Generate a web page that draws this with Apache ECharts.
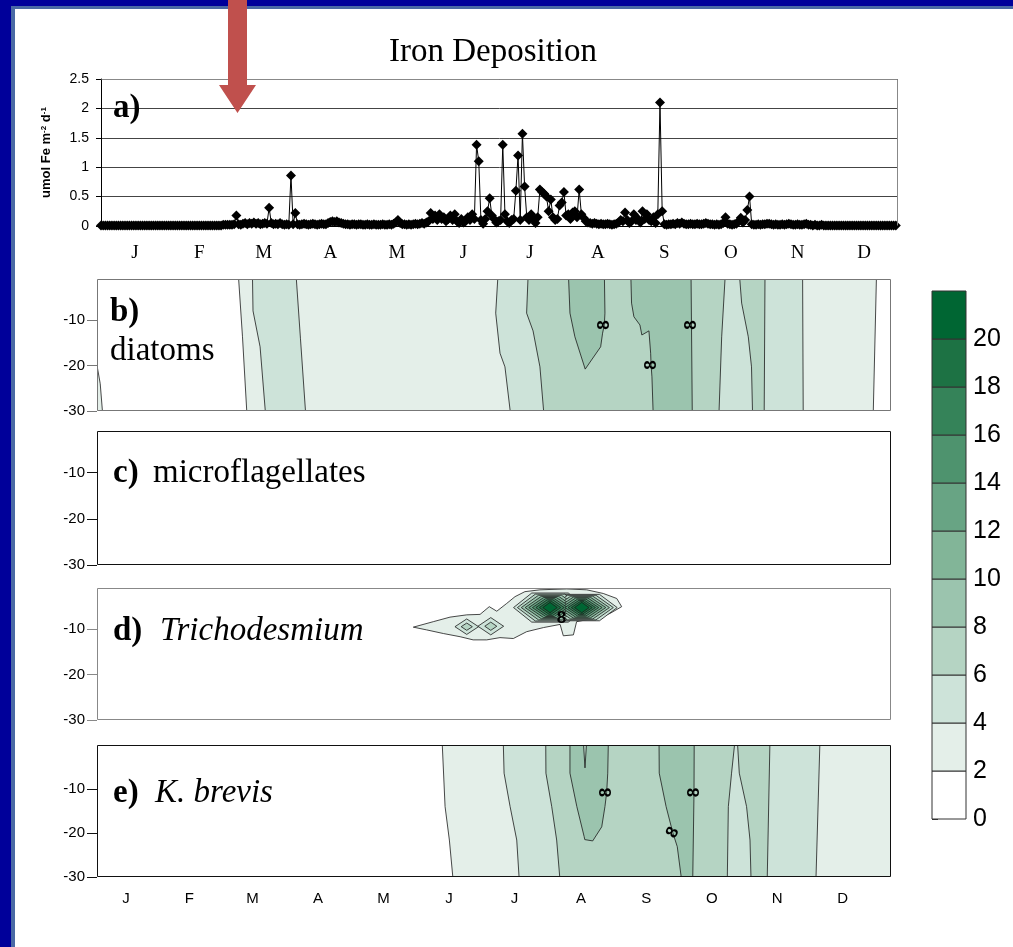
<!DOCTYPE html>
<html>
<head>
<meta charset="utf-8">
<title>Iron deposition and phytoplankton</title>
<script src="https://cdn.jsdelivr.net/npm/echarts@6/dist/echarts.min.js"></script>
<style>
html, body { margin: 0; padding: 0; background: #fff; }
#main { width: 1013px; height: 947px; }
</style>
</head>
<body>
<div id="main"></div>
<script>
var monthLetters = ['J','F','M','A','M','J','J','A','S','O','N','D'];
var monthMidDays = [15.5, 45, 74.5, 105, 135.5, 166, 196.5, 227.5, 258, 288.5, 319, 349.5];

// daily iron deposition (umol Fe m-2 d-1), one value per day
var ironJan = [0.01,0.01,0.01,0.01,0.01,0.01,0.01,0.01,0.01,0.01,
               0.01,0.01,0.01,0.01,0.01,0.01,0.01,0.01,0.01,0.01,
               0.01,0.01,0.01,0.01,0.01,0.01,0.01,0.01,0.01,0.01,0.01];
var ironFeb = [0.01,0.01,0.01,0.01,0.01,0.01,0.01,0.01,0.01,0.01,
               0.01,0.01,0.01,0.01,0.01,0.01,0.01,0.01,0.01,0.01,
               0.01,0.01,0.01,0.01,0.01,0.02,0.02,0.02];
var ironMar = [0.02,0.02,0.03,0.18,0.03,0.02,0.04,0.05,0.03,0.05,
               0.04,0.06,0.04,0.05,0.03,0.04,0.05,0.04,0.31,0.05,
               0.03,0.04,0.03,0.05,0.03,0.02,0.03,0.02,0.86,0.03,0.22];
var ironApr = [0.03,0.02,0.03,0.04,0.03,0.02,0.03,0.04,0.03,0.02,
               0.03,0.04,0.03,0.03,0.05,0.07,0.08,0.07,0.08,0.06,
               0.05,0.04,0.03,0.03,0.02,0.03,0.03,0.02,0.03,0.03];
var ironMay = [0.02,0.02,0.03,0.02,0.02,0.03,0.02,0.02,0.02,0.03,
               0.02,0.02,0.03,0.02,0.04,0.06,0.10,0.05,0.03,0.03,
               0.02,0.03,0.02,0.03,0.04,0.03,0.04,0.05,0.04,0.06,0.08];
var ironJun = [0.22,0.12,0.18,0.10,0.20,0.12,0.15,0.08,0.12,0.18,
               0.10,0.20,0.08,0.05,0.12,0.06,0.08,0.15,0.10,0.20,
               0.12,1.38,1.10,0.10,0.04,0.12,0.25,0.47,0.18,0.12];
var ironJul = [0.06,0.08,0.10,1.38,0.20,0.08,0.05,0.10,0.12,0.60,
               1.20,0.10,1.57,0.67,0.15,0.10,0.20,0.12,0.05,0.15,
               0.62,0.58,0.55,0.50,0.25,0.45,0.15,0.10,0.12,0.35,0.40];
var ironAug = [0.58,0.18,0.20,0.12,0.23,0.25,0.15,0.62,0.20,0.14,
               0.08,0.06,0.05,0.04,0.05,0.04,0.03,0.04,0.03,0.03,
               0.04,0.03,0.02,0.03,0.04,0.06,0.10,0.08,0.23,0.10,0.05];
var ironSep = [0.08,0.20,0.10,0.12,0.06,0.25,0.12,0.20,0.10,0.08,
               0.15,0.05,0.20,2.10,0.25,0.03,0.02,0.03,0.03,0.04,
               0.03,0.05,0.04,0.06,0.04,0.03,0.03,0.04,0.03,0.03];
var ironOct = [0.04,0.03,0.03,0.04,0.05,0.04,0.03,0.03,0.02,0.03,
               0.02,0.03,0.05,0.15,0.04,0.03,0.02,0.03,0.04,0.08,
               0.14,0.06,0.10,0.27,0.50,0.03,0.02,0.02,0.03,0.02,0.03];
var ironNov = [0.03,0.04,0.04,0.03,0.02,0.03,0.02,0.02,0.03,0.02,
               0.03,0.04,0.03,0.02,0.02,0.03,0.02,0.02,0.03,0.04,
               0.02,0.02,0.01,0.02,0.01,0.01,0.02,0.01,0.01,0.01];
var ironDec = [0.01,0.01,0.01,0.01,0.01,0.01,0.01,0.01,0.01,0.01,
               0.01,0.01,0.01,0.01,0.01,0.01,0.01,0.01,0.01,0.01,
               0.01,0.01,0.01,0.01,0.01,0.01,0.01,0.01,0.01,0.01,0.01];
var ironDeposition = [].concat(ironJan, ironFeb, ironMar, ironApr, ironMay, ironJun,
                               ironJul, ironAug, ironSep, ironOct, ironNov, ironDec);

var depthTicks = [-30, -20, -10];
var levelEdges = [0, 2, 4, 6, 8, 10, 12, 14, 16, 18, 20];
var levelColors = ['#ffffff','#e4efe9','#cde3d9','#b5d4c3','#9bc4ae','#82b598',
                   '#68a484','#4e936e','#358359','#1d7244','#006633'];

// contour regions: [lower level, [[day, depth], ...]]  (value >= level inside)
var diatomRegions = [
  [2, [[1,-20.3],[2.2,-20.5],[3.5,-24],[4.7,-31],[1,-31]]],
  [2, [[68,1],[68,-1],[69.8,-13.7],[71.9,-31],[363.7,-31],[365.3,1]]],
  [4, [[74.4,1],[74.7,-8],[78,-15.9],[80.6,-31],[99.3,-31],[96.8,-14],[94.6,1]]],
  [4, [[189,1],[187.8,-8.5],[189.8,-17.3],[192.1,-20.3],[194.8,-31],[331.1,-31],[330.8,1]]],
  [6, [[203,1],[202.2,-8.5],[205.2,-12.4],[208.4,-20.3],[210.3,-31],[291.8,-31],[293.1,-13.7],[294.9,1]]],
  [6, [[301.2,1],[302.4,-6.3],[305.5,-13.7],[307,-20.3],[307.5,-31],[312.9,-31],[313.3,1]]],
  [8, [[221.6,1],[222.4,-8.5],[224.7,-13.7],[229.5,-20.8],[236.7,-15.9],[237.6,-12.9],[238.4,-11.1],[238.7,-8.5],[238.4,1]]],
  [8, [[250.7,1],[251.1,-6.3],[252.2,-9.3],[255,-11.1],[255.9,-13.3],[259.2,-12.4],[260,-17.3],[260.2,-19.9],[260.6,-22.5],[261.2,-31],[279.4,-31],[278.8,1]]]
];
var diatomLabels = [[238.4,-11.1,90],[278.8,-11.1,90],[260.2,-19.9,90]];

var microRegions = [];

var trichoRegions = [
  [2, [[149.4,-9.6],[158.7,-8.4],[166.5,-7.4],[174.3,-6.9],[180.5,-6.8],[184.8,-5.1],[188.3,-6.1],
       [192.9,-4.4],[196.8,-2.9],[201.4,-1.8],[208.4,-1.4],[220.9,-1.2],[230.2,-1.4],[237.9,-2.2],
       [244.2,-3.3],[246.5,-5.1],[241.0,-6.6],[233.3,-7.7],[225.5,-8.4],[224.0,-11.3],[219.3,-11.5],
       [217.8,-9.0],[210.0,-9.7],[202.2,-10.6],[196.0,-12.1],[189.8,-11.9],[183.6,-12.4],[177.3,-12.4],
       [171.2,-11.7],[163.4,-11.0],[155.6,-10.2]]]
];
// closed rings around maxima: [level, day, depth, half width (days), half height (m), flat top share]
var trichoRings = [
  [4,174.3,-9.5,5.5,1.7,0],  [6,174.3,-9.5,2.6,0.8,0],
  [4,185.5,-9.4,6.0,1.9,0],  [6,185.5,-9.4,2.8,0.9,0],
  [4,213.1,-5.3,17.0,3.2,0.5],[4,227.9,-5.3,16.5,2.9,0.5],
  [6,213.1,-5.3,15.2,2.95,0.45],[6,227.9,-5.3,14.7,2.7,0.45],
  [8,213.1,-5.3,13.4,2.7,0.4],[8,227.9,-5.3,12.9,2.5,0.4],
  [10,213.1,-5.3,11.6,2.45,0.35],[10,227.9,-5.3,11.2,2.3,0.35],
  [12,213.1,-5.3,9.9,2.2,0.3],[12,227.9,-5.3,9.5,2.1,0.3],
  [14,213.1,-5.3,8.2,1.95,0.25],[14,227.9,-5.3,7.9,1.85,0.25],
  [16,213.1,-5.3,6.6,1.7,0.2],[16,227.9,-5.3,6.4,1.6,0.2],
  [18,213.1,-5.3,5.0,1.45,0.1],[18,227.9,-5.3,4.9,1.4,0.1],
  [20,213.1,-5.3,3.4,1.15,0],[20,227.9,-5.3,3.4,1.15,0]
];
var trichoLabels = [[218.5,-7.7,0]];

var brevisRegions = [
  [2, [[162.9,1],[162.9,0],[164.2,-14],[166.2,-21.6],[168,-31],[380,-31],[380,1]]],
  [4, [[191.3,1],[191.7,-6.4],[194.5,-14],[197.6,-21.6],[198.8,-31],[337,-31],[338.9,1]]],
  [6, [[211.1,1],[211.2,-6.4],[213.9,-14],[216.2,-21.6],[217.8,-31],[295.7,-31],[296.2,-14],[297.7,-6.4],[299.3,1]]],
  [6, [[300.4,1],[301.3,-6.4],[304.7,-14],[306.3,-21.6],[306.8,-31],[314.3,-31],[315.6,1]]],
  [8, [[222.4,1],[222.4,-6.4],[225.6,-14],[229,-20.8],[229.3,-21.5],[233,-21.8],[237.2,-18.6],[238.7,-14],
       [239.5,-10.8],[240,-6.4],[240.3,1],[230.2,1],[229.4,-5.2],[228.6,1]]],
  [8, [[263.9,1],[264,-6.4],[267.2,-14],[270.3,-19.9],[272.4,-23.1],[274.5,-31],[279.6,-31],[280.2,-10.8],[280.3,1]]]
];
var brevisLabels = [[239.5,-10.8,90],[280.2,-10.8,90],[270.3,-19.9,60]];

// rings become polygons, then everything is painted from low to high level
function ringsToRegions(rings) {
  return rings.map(function (r) {
    var cx = r[1], cy = r[2], hw = r[3], hh = r[4], f = r[5];
    var pts = f > 0
      ? [[cx - hw, cy], [cx - hw * f, cy + hh], [cx + hw * f, cy + hh], [cx + hw, cy], [cx + hw * f, cy - hh], [cx - hw * f, cy - hh]]
      : [[cx - hw, cy], [cx, cy + hh], [cx + hw, cy], [cx, cy - hh]];
    return [r[0], pts];
  });
}
var trichoAll = trichoRegions.concat(ringsToRegions(trichoRings));
trichoAll.sort(function (a, b) { return a[0] - b[0]; });

var sans = 'Liberation Sans';
var serif = 'Liberation Serif';

function monthFormatter(v) {
  var i = monthMidDays.indexOf(v);
  return i >= 0 ? monthLetters[i] : '';
}

function regionSeries(idx, regions) {
  return {
    type: 'custom', xAxisIndex: idx, yAxisIndex: idx, clip: true, silent: true, z: 2,
    data: regions.map(function (r) { return [r[1][0][0], r[1][0][1], r[0]]; }),
    renderItem: function (params, api) {
      var r = regions[params.dataIndex];
      var pts = r[1].map(function (p) { return api.coord(p); });
      return {
        type: 'polygon', shape: { points: pts },
        style: { fill: levelColors[r[0] / 2], stroke: '#1a1a1a', lineWidth: 0.8 }
      };
    }
  };
}

function labelSeries(idx, labels) {
  return {
    type: 'custom', xAxisIndex: idx, yAxisIndex: idx, silent: true, z: 4,
    data: labels,
    renderItem: function (params, api) {
      var p = api.coord([api.value(0), api.value(1)]);
      return {
        type: 'text', x: p[0], y: p[1], rotation: api.value(2) * Math.PI / 180,
        style: { text: '8', font: 'bold 17px "' + sans + '"', fill: '#000',
                 align: 'center', verticalAlign: 'middle', textAlign: 'center', textVerticalAlign: 'middle' }
      };
    }
  };
}

function frameSeries(idx, color, openFrame) {
  return {
    type: 'custom', xAxisIndex: idx, yAxisIndex: idx, silent: true, z: 5,
    data: [[100, -10]],
    renderItem: function (params) {
      var cs = params.coordSys;
      var x0 = Math.round(cs.x) + 0.5, y0 = Math.round(cs.y) + 0.5;
      var x1 = Math.round(cs.x + cs.width) - 0.5, y1 = Math.round(cs.y + cs.height) - 0.5;
      if (openFrame) {
        return { type: 'polyline', shape: { points: [[x0, y0], [x1, y0], [x1, y1]] },
                 style: { stroke: color, lineWidth: 1, fill: null } };
      }
      return { type: 'rect', shape: { x: x0, y: y0, width: x1 - x0, height: y1 - y0 },
               style: { fill: 'none', stroke: color, lineWidth: 1 } };
    }
  };
}

function depthAxis(idx, max, color) {
  return {
    gridIndex: idx, type: 'value', min: -30, max: max,
    axisLine: { show: false },
    axisTick: { show: true, customValues: depthTicks, length: 10, lineStyle: { color: color } },
    axisLabel: { customValues: depthTicks, fontFamily: sans, fontSize: 15, color: '#000', margin: 12 },
    splitLine: { show: false }
  };
}

function hiddenDayAxis(idx) {
  return { gridIndex: idx, type: 'value', min: 2, max: 372, show: false };
}

var frameColors = ['#888', '#777', '#111', '#888', '#111'];

var chart = echarts.init(document.getElementById('main'));
var option = {
  backgroundColor: '#fff',
  animation: false,
  grid: [
    { left: 101, top: 79, width: 797, height: 147 },
    { left: 97, top: 279, width: 794, height: 132 },
    { left: 97, top: 431, width: 794, height: 134 },
    { left: 97, top: 588, width: 794, height: 132 },
    { left: 97, top: 745, width: 794, height: 132 },
    { left: 932, top: 291, width: 34, height: 528 }
  ],
  xAxis: [
    {
      gridIndex: 0, type: 'value', min: 0, max: 365,
      axisLine: { show: true, lineStyle: { color: '#000' } },
      axisTick: { show: false }, splitLine: { show: false },
      axisLabel: { customValues: monthMidDays, formatter: monthFormatter,
                   fontFamily: serif, fontSize: 19, color: '#000', margin: 18 }
    },
    hiddenDayAxis(1), hiddenDayAxis(2), hiddenDayAxis(3),
    {
      gridIndex: 4, type: 'value', min: 2, max: 372,
      axisLine: { show: false }, axisTick: { show: false }, splitLine: { show: false },
      axisLabel: { customValues: monthMidDays, formatter: monthFormatter,
                   fontFamily: sans, fontSize: 15, color: '#000', margin: 14 }
    },
    { gridIndex: 5, type: 'value', min: 0, max: 1, show: false }
  ],
  yAxis: [
    {
      gridIndex: 0, type: 'value', min: 0, max: 2.5, interval: 0.5,
      axisLine: { show: true, lineStyle: { color: '#000' } },
      axisTick: { show: true, length: 5, lineStyle: { color: '#000' } },
      splitLine: { show: true, lineStyle: { color: '#444', width: 1 } },
      axisLabel: { fontFamily: sans, fontSize: 14, color: '#000', margin: 12 },
      name: '{n|umol Fe m}{sup|-2}{n| d}{sup|-1}',
      nameLocation: 'middle', nameRotate: 90, nameGap: 47,
      nameTextStyle: {
        rich: {
          n: { fontFamily: sans, fontWeight: 'bold', fontSize: 13, color: '#000', lineHeight: 15 },
          sup: { fontFamily: sans, fontWeight: 'bold', fontSize: 8, color: '#000', lineHeight: 9, padding: [0, 0, 6, 0] }
        }
      }
    },
    depthAxis(1, -1, frameColors[1]),
    depthAxis(2, -1, frameColors[2]),
    depthAxis(3, -1, frameColors[3]),
    depthAxis(4, 0, frameColors[4]),
    {
      gridIndex: 5, type: 'value', min: 0, max: 22, position: 'right',
      axisLine: { show: false },
      axisTick: { show: true, customValues: levelEdges, length: 6, lineStyle: { color: '#333' } },
      axisLabel: { customValues: levelEdges, fontFamily: sans, fontSize: 25, color: '#000', margin: 7 },
      splitLine: { show: false }
    }
  ],
  series: [
    {
      type: 'line', xAxisIndex: 0, yAxisIndex: 0, silent: true, clip: false, z: 3,
      data: ironDeposition.map(function (v, i) { return [i, v]; }),
      symbol: 'diamond', symbolSize: 10, showAllSymbol: true,
      itemStyle: { color: '#000' },
      lineStyle: { color: '#000', width: 1 }
    },
    frameSeries(0, frameColors[0], true),
    regionSeries(1, diatomRegions), labelSeries(1, diatomLabels), frameSeries(1, frameColors[1]),
    regionSeries(2, microRegions), frameSeries(2, frameColors[2]),
    regionSeries(3, trichoAll), labelSeries(3, trichoLabels), frameSeries(3, frameColors[3]),
    regionSeries(4, brevisRegions), labelSeries(4, brevisLabels), frameSeries(4, frameColors[4]),
    {
      type: 'custom', xAxisIndex: 5, yAxisIndex: 5, silent: true, z: 2,
      data: levelEdges.map(function (v) { return [0.5, v]; }),
      renderItem: function (params, api) {
        var lo = api.value(1);
        var p0 = api.coord([0, lo]);
        var p1 = api.coord([1, lo + 2]);
        return {
          type: 'rect',
          shape: { x: p0[0], y: p1[1], width: p1[0] - p0[0], height: p0[1] - p1[1] },
          style: { fill: levelColors[params.dataIndex], stroke: '#333', lineWidth: 1 }
        };
      }
    }
  ],
  graphic: [
    // slide frame
    { type: 'rect', z: 50, shape: { x: 0, y: 0, width: 1013, height: 6 }, style: { fill: '#00009a' } },
    { type: 'rect', z: 50, shape: { x: 0, y: 0, width: 11, height: 947 }, style: { fill: '#00009a' } },
    { type: 'rect', z: 50, shape: { x: 11, y: 6, width: 1002, height: 3 }, style: { fill: '#4a6aa5' } },
    { type: 'rect', z: 50, shape: { x: 11, y: 6, width: 4, height: 941 }, style: { fill: '#4a6aa5' } },
    // arrow
    { type: 'polygon', z: 60,
      shape: { points: [[228, 0], [247, 0], [247, 85], [256, 85], [237.5, 113], [219, 85], [228, 85]] },
      style: { fill: '#c0504d' } },
    // titles and panel names
    { type: 'text', z: 60, x: 493, y: 52, style: { text: 'Iron Deposition', font: '33px "' + serif + '"', fill: '#000', textAlign: 'center', textVerticalAlign: 'middle' } },
    { type: 'text', z: 60, x: 113, y: 108, style: { text: 'a)', font: 'bold 33px "' + serif + '"', fill: '#000', textVerticalAlign: 'middle' } },
    { type: 'text', z: 60, x: 110, y: 312, style: { text: 'b)', font: 'bold 33px "' + serif + '"', fill: '#000', textVerticalAlign: 'middle' } },
    { type: 'text', z: 60, x: 110, y: 351, style: { text: 'diatoms', font: '33px "' + serif + '"', fill: '#000', textVerticalAlign: 'middle' } },
    { type: 'text', z: 60, x: 113, y: 473, style: { text: 'c)', font: 'bold 33px "' + serif + '"', fill: '#000', textVerticalAlign: 'middle' } },
    { type: 'text', z: 60, x: 153, y: 473, style: { text: 'microflagellates', font: '33px "' + serif + '"', fill: '#000', textVerticalAlign: 'middle' } },
    { type: 'text', z: 60, x: 113, y: 631, style: { text: 'd)', font: 'bold 33px "' + serif + '"', fill: '#000', textVerticalAlign: 'middle' } },
    { type: 'text', z: 60, x: 160, y: 631, style: { text: 'Trichodesmium', font: 'italic 33px "' + serif + '"', fill: '#000', textVerticalAlign: 'middle' } },
    { type: 'text', z: 60, x: 113, y: 793, style: { text: 'e)', font: 'bold 33px "' + serif + '"', fill: '#000', textVerticalAlign: 'middle' } },
    { type: 'text', z: 60, x: 155, y: 793, style: { text: 'K. brevis', font: 'italic 33px "' + serif + '"', fill: '#000', textVerticalAlign: 'middle' } }
  ]
};
chart.setOption(option);
</script>
</body>
</html>
